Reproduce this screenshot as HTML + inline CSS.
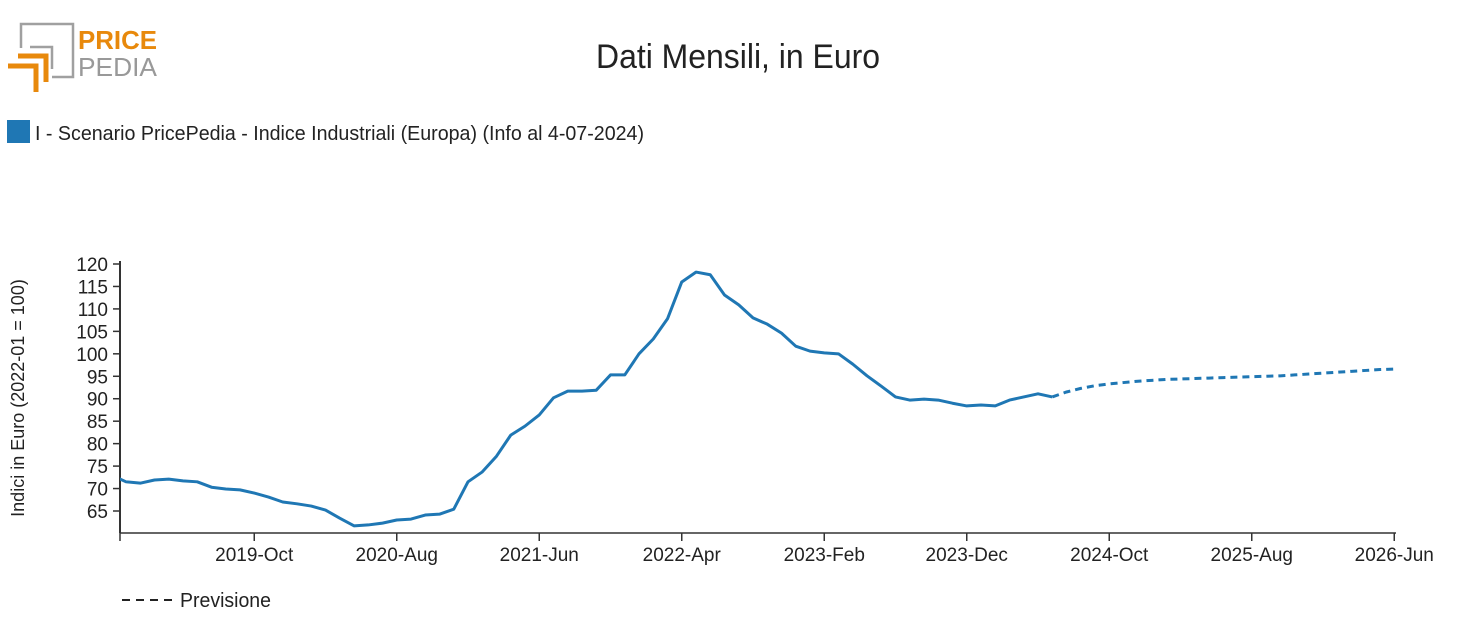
<!DOCTYPE html>
<html><head><meta charset="utf-8">
<style>
body{margin:0;background:#fff;width:1477px;height:615px;overflow:hidden;font-family:"Liberation Sans",sans-serif;}
svg text{font-family:"Liberation Sans",sans-serif;fill:#222;}
</style></head>
<body>
<svg id="chart" width="1477" height="615" xmlns="http://www.w3.org/2000/svg">
<g>
<polyline points="21,48 21,24 73,24 73,77 52,77" fill="none" stroke="#a0a0a0" stroke-width="2.5"/>
<polyline points="30,47 52,47 52,69" fill="none" stroke="#a0a0a0" stroke-width="2.5"/>
<polyline points="8,66 36,66 36,92" fill="none" stroke="#e8890c" stroke-width="5"/>
<polyline points="18,56 46,56 46,82" fill="none" stroke="#e8890c" stroke-width="5"/>
<text x="78" y="49" textLength="79" lengthAdjust="spacingAndGlyphs" style="font-weight:bold;font-size:26px;fill:#e8890c">PRICE</text>
<text x="78" y="76" textLength="79" lengthAdjust="spacingAndGlyphs" style="font-size:26px;fill:#999">PEDIA</text>
</g>
<text x="596" y="68" textLength="284" lengthAdjust="spacingAndGlyphs" font-size="34">Dati Mensili, in Euro</text>
<rect x="7" y="120" width="23" height="23" fill="#1f77b4"/>
<text x="35" y="140" textLength="609" lengthAdjust="spacingAndGlyphs" font-size="20">I - Scenario PricePedia - Indice Industriali (Europa) (Info al 4-07-2024)</text>
<text transform="translate(24,398) rotate(-90)" text-anchor="middle" font-size="18">Indici in Euro (2022-01 = 100)</text>
<g id="axes"></g>
<g id="series"></g>
<line x1="122" y1="600" x2="172" y2="600" stroke="#222" stroke-width="2" stroke-dasharray="8,6"/>
<text x="180" y="607" textLength="91" lengthAdjust="spacingAndGlyphs" font-size="20">Previsione</text>
<defs><clipPath id="plotclip"><rect x="120" y="250" width="1290" height="290"/></clipPath></defs>
</svg>
<script>
const startLabel = "2018-12";
const actualValues = [73.0,71.5,71.2,71.9,72.1,71.7,71.5,70.3,69.9,69.7,69.0,68.1,67.0,66.6,66.1,65.2,63.4,61.7,61.9,62.3,63.0,63.2,64.1,64.3,65.4,71.5,73.7,77.2,81.9,83.9,86.4,90.2,91.7,91.7,91.9,95.3,95.3,100.0,103.3,107.8,116.0,118.2,117.6,113.1,110.9,108.0,106.6,104.6,101.7,100.6,100.2,100.0,97.7,95.1,92.8,90.4,89.7,89.9,89.7,89.0,88.4,88.6,88.4,89.7,90.4,91.1,90.4];
const forecastValues = [91.5,92.3,92.9,93.3,93.6,93.9,94.1,94.3,94.4,94.5,94.6,94.7,94.8,94.9,95.0,95.1,95.3,95.5,95.7,95.9,96.1,96.3,96.5,96.6];
const yTicks = [65,70,75,80,85,90,95,100,105,110,115,120];
const xTickLabels = ["2019-Oct","2020-Aug","2021-Jun","2022-Apr","2023-Feb","2023-Dec","2024-Oct","2025-Aug","2026-Jun"];
const xTickMonths = [10,20,30,40,50,60,70,80,90]; // months after 2018-12
const NS="http://www.w3.org/2000/svg";
const x = m => 111.75 + m*14.25;
const y = v => 264 + (120 - v)*4.491;
const axes=document.getElementById('axes'), series=document.getElementById('series');
function mk(tag,attrs,parent){const e=document.createElementNS(NS,tag);for(const k in attrs)e.setAttribute(k,attrs[k]);parent.appendChild(e);return e;}
const yAxis=mk('line',{x1:120,y1:261,x2:120,y2:533,stroke:'#333','stroke-width':2},axes);


const xAxis=mk('line',{x1:120,y1:533,x2:1396,y2:533,stroke:'#333','stroke-width':1.5},axes);


mk('line',{x1:120,y1:533,x2:120,y2:541,stroke:'#333','stroke-width':1.5},axes);
yTicks.forEach(v=>{
  mk('line',{x1:113,y1:y(v),x2:120,y2:y(v),stroke:'#333','stroke-width':1.5},axes);
  const t=mk('text',{x:108,y:y(v)+7,'text-anchor':'end','font-size':19},axes);
  t.textContent=v;
  
  
});
xTickMonths.forEach((m,i)=>{
  mk('line',{x1:x(m),y1:533,x2:x(m),y2:541,stroke:'#333','stroke-width':1.5},axes);
  const t=mk('text',{x:x(m),y:561,'text-anchor':'middle','font-size':19},axes);
  t.textContent=xTickLabels[i];
  
  
});
const ap=actualValues.map((v,i)=>x(i).toFixed(2)+','+y(v).toFixed(2)).join(' ');
const actual=mk('polyline',{points:ap,fill:'none',stroke:'#1f77b4','stroke-width':3,'stroke-linejoin':'round','clip-path':'url(#plotclip)'},series);


const lastI=actualValues.length-1;
const fp=[x(lastI).toFixed(2)+','+y(actualValues[lastI]).toFixed(2)].concat(forecastValues.map((v,i)=>x(lastI+1+i).toFixed(2)+','+y(v).toFixed(2))).join(' ');
const fc=mk('polyline',{points:fp,fill:'none',stroke:'#1f77b4','stroke-width':3,'stroke-dasharray':'7,5'},series);


</script>
</body></html>
